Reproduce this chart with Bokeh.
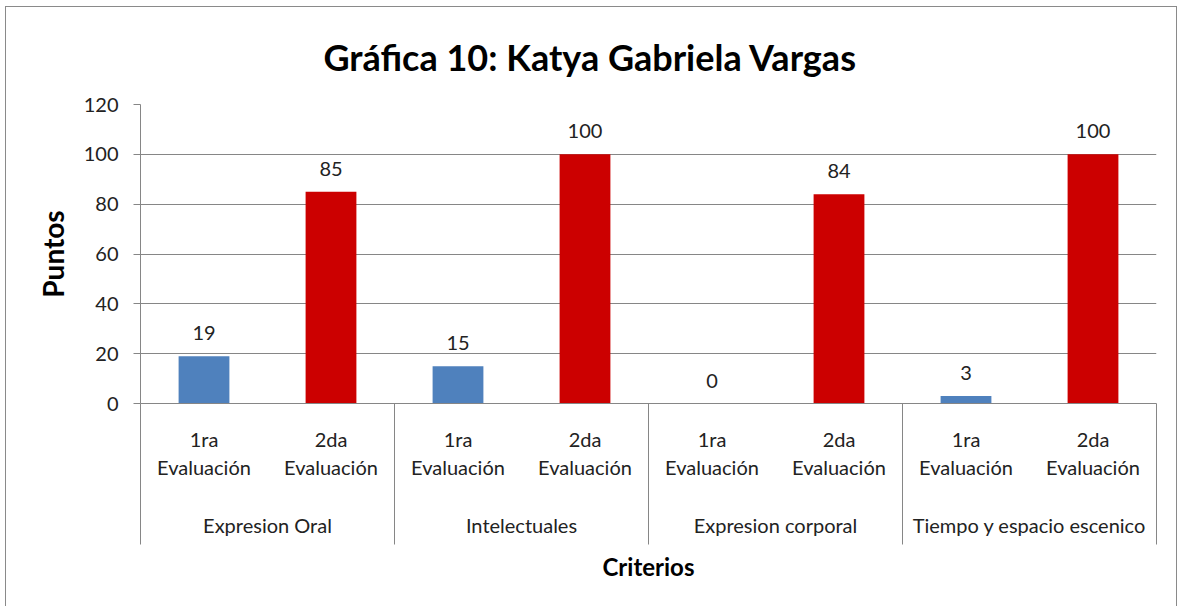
from bokeh.plotting import figure
from bokeh.models import (ColumnDataSource, Range1d, FixedTicker, LinearAxis, Title)
from bokeh.core.properties import value
from bokeh.embed import file_html
from bokeh.resources import INLINE

# ---- data ----
criterios = ["Expresion Oral", "Intelectuales", "Expresion corporal", "Tiempo y espacio escenico"]
evaluaciones = ["1ra\nEvaluación", "2da\nEvaluación"]
primera = [19, 15, 0, 3]
segunda = [85, 100, 84, 100]
y_ticks = [0, 20, 40, 60, 80, 100, 120]
titulo = "Gráfica 10: Katya Gabriela Vargas"
colores = ["#4F81BD", "#CC0000"]

FONT = "Lato"
GRAY = "#868686"
TXT = "#222222"

# ---- build table ----
xs, vals, cols, labs = [], [], [], []
for i, (a, b) in enumerate(zip(primera, segunda)):
    for j, v in enumerate((a, b)):
        xs.append(2 * i + j + 0.5)
        vals.append(v)
        cols.append(colores[j])
        labs.append(str(v))
src = ColumnDataSource(dict(x=xs, top=vals, color=cols, label=labs))

n = len(criterios) * len(evaluaciones)

p = figure(width=1172, height=600, output_backend="svg", toolbar_location=None,
           x_range=Range1d(0, n), y_range=Range1d(0, 120), x_axis_type=None,
           min_border_left=134, min_border_right=22, min_border_top=96,
           min_border_bottom=204)
p.outline_line_color = None
p.background_fill_color = "white"
p.border_fill_color = "white"
# outer chart border (as in the original chart box)
p.styles = {"margin": "6px 0 0 5px", "border": "1px solid #8a8a8a",
            "border-bottom": "none"}

p.title = Title(text=titulo, text_font=FONT, text_font_size="36px",
                text_font_style="bold", text_color="#000000", align="left",
                offset=183, standoff=51)

p.vbar(x="x", top="top", width=0.4, color="color", source=src, line_color=None)
p.text(x="x", y="top", text="label", source=src, text_align="center",
       text_baseline="bottom", y_offset=-16, text_font_size="20px",
       text_color=TXT, text_font=value(FONT))

# y axis
yax = p.yaxis[0]
yax.ticker = FixedTicker(ticks=y_ticks)
yax.axis_label = "Puntos"
yax.axis_label_text_font = FONT
yax.axis_label_text_font_size = "28px"
yax.axis_label_text_font_style = "bold"
yax.axis_label_text_color = "#000000"
yax.axis_label_standoff = 11
yax.major_label_text_font = FONT
yax.major_label_text_font_size = "20px"
yax.major_label_text_color = TXT
yax.major_label_standoff = 15
yax.axis_line_color = GRAY
yax.major_tick_line_color = GRAY
yax.major_tick_out = 7
yax.major_tick_in = 0
yax.minor_tick_line_color = None

p.ygrid.ticker = FixedTicker(ticks=y_ticks)
p.ygrid.grid_line_color = GRAY

# x axis: evaluations with group separators (minor ticks)
sub_ticks = [2 * i + j + 0.5 for i in range(len(criterios)) for j in range(len(evaluaciones))]
sep_ticks = [2 * i for i in range(len(criterios) + 1)]
xa = LinearAxis(ticker=FixedTicker(ticks=sub_ticks, minor_ticks=sep_ticks))
xa.major_label_overrides = {t: evaluaciones[k % 2] for k, t in enumerate(sub_ticks)}
xa.major_label_text_font = FONT
xa.major_label_text_font_size = "20px"
xa.major_label_text_color = TXT
xa.major_label_text_line_height = 1.17
xa.major_label_standoff = -118
xa.major_tick_line_color = None
xa.major_tick_out = 0
xa.major_tick_in = 0
xa.minor_tick_line_color = GRAY
xa.minor_tick_out = 141
xa.minor_tick_in = 0
xa.axis_line_color = GRAY
p.add_layout(xa, "below")

grp_ticks = [2 * i + 1 for i in range(len(criterios))]
xg = LinearAxis(ticker=FixedTicker(ticks=grp_ticks, minor_ticks=[]))
xg.major_label_overrides = {t: criterios[k] for k, t in enumerate(grp_ticks)}
xg.major_label_text_font = FONT
xg.major_label_text_font_size = "20px"
xg.major_label_text_color = TXT
xg.major_label_standoff = 31
xg.major_tick_line_color = None
xg.major_tick_out = 0
xg.minor_tick_line_color = None
xg.axis_line_color = None
xg.axis_label = "Criterios"
xg.axis_label_text_font = FONT
xg.axis_label_text_font_size = "24px"
xg.axis_label_text_font_style = "bold"
xg.axis_label_text_color = "#000000"
xg.axis_label_standoff = 12
p.add_layout(xg, "below")

open("out.html", "w").write(file_html(p, INLINE))
